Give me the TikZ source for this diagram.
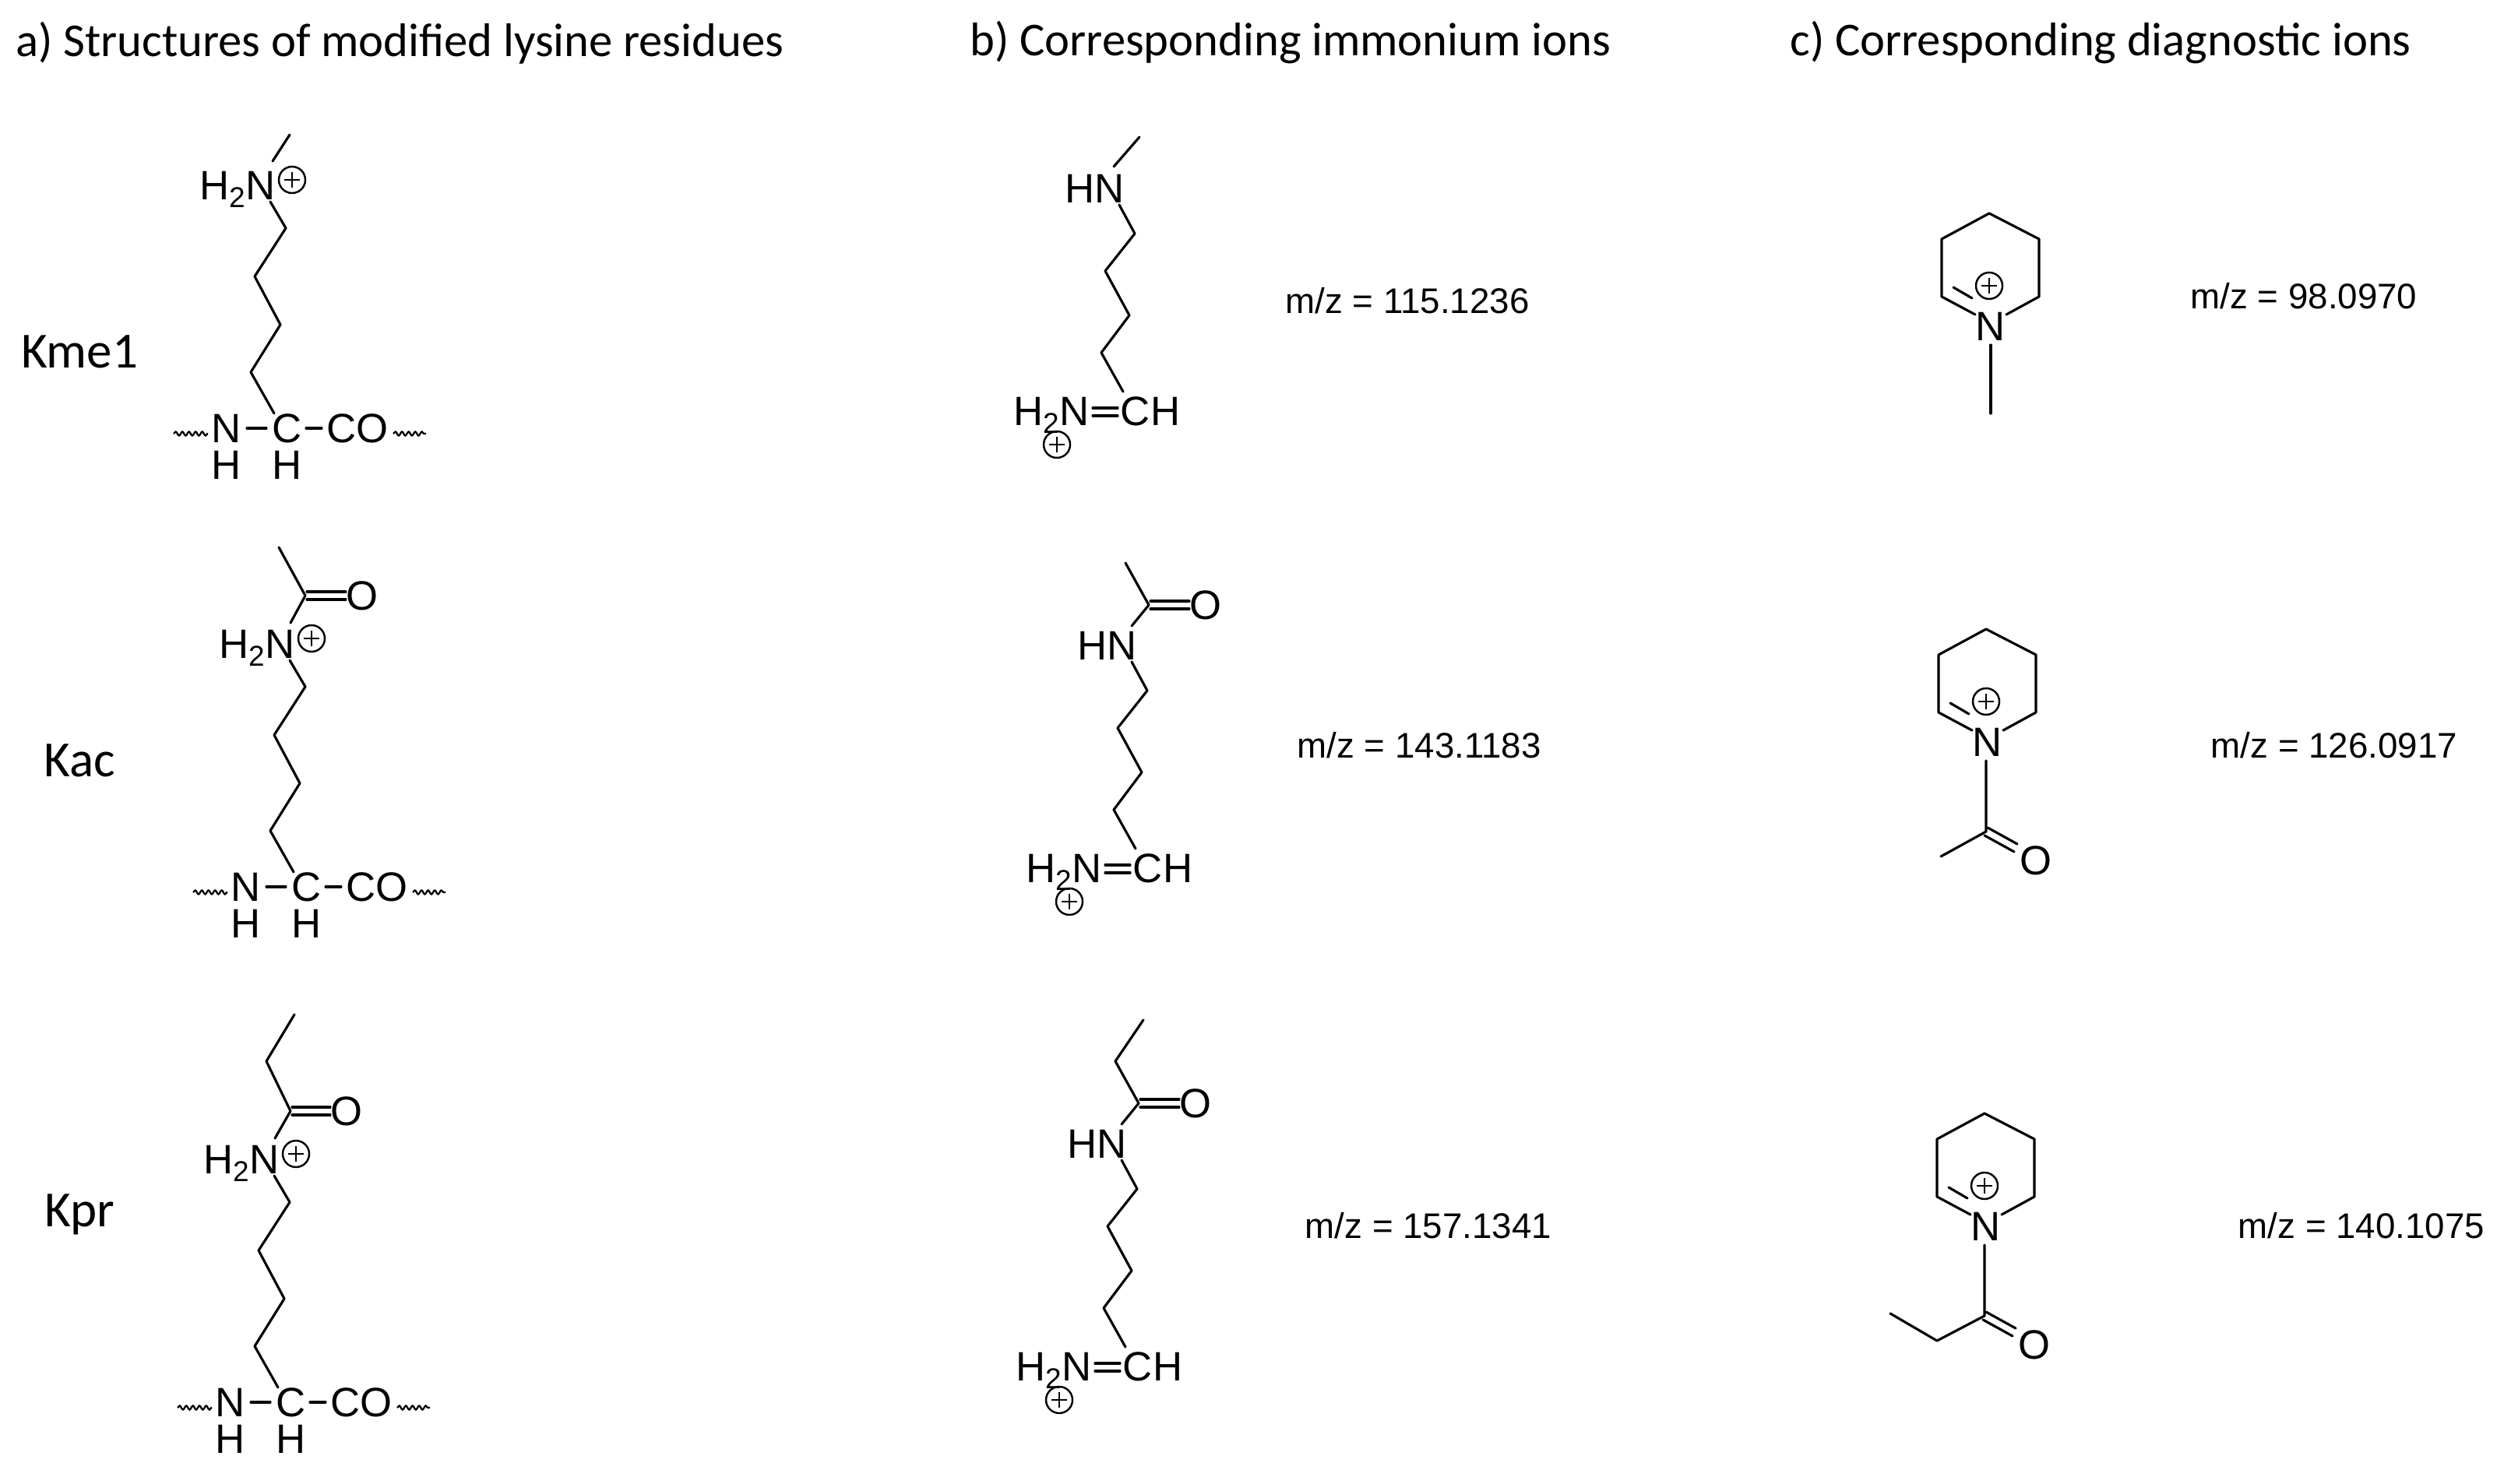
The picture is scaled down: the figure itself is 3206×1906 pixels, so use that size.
\documentclass[tikz,border=0pt]{standalone}
\usepackage{fontspec}
\setmainfont{Liberation Sans}
\newfontfamily\headfont{Carlito}
\usetikzlibrary{decorations.pathmorphing}
\newcommand\chemfont{\fontsize{30}{36}\selectfont}
\newcommand\pc[2]{\draw[plc] (#1,#2) circle (17); \draw[plc] (#1-10,#2)--(#1+10,#2) (#1,#2-10)--(#1,#2+10);}
\newcommand\lysine[3]{%
\begin{scope}[shift={(#1,#2)}]
 \node[chem,anchor=base east] (h2n#3) at (19,19) {H\textsubscript{2}N};
 \pc{40}{-6}
 \draw[bond] (12,22)--(32,56)--(-8,118)--(25,180)--(-13,241)--(17,294);
 \node[chem] (nb#3) at (-44,313) {N};
 \node[chem] (cb#3) at (34,313) {C};
 \node[chem,anchor=west] (co#3) at (84,313) {CO};
 \node[chem] (hn#3) at (-44,360) {H};
 \node[chem] (hc#3) at (34,360) {H};
 \draw[bond] (-18,313)--(7,313) (58,313)--(78,313);
 \draw[wavy] (-112,320)--(-68,320);
 \draw[wavy] (170,320)--(212,320);
\end{scope}}
\newcommand\immon[3]{%
\begin{scope}[shift={(#1,#2)}]
 \node[chem,anchor=base east] (hn#3) at (19,19) {HN};
 \draw[bond] (12,22)--(32,59)--(-6,107)--(25,164)--(-11,212)--(17,262);
 \node[chem,anchor=base] (ch#3) at (52,305) {CH};
 \node[chem,anchor=base east] (nh#3) at (-26,305) {H\textsubscript{2}N};
 \draw[bond] (-22,283)--(10,283) (-22,293)--(10,293);
 \pc{-68}{330}
\end{scope}}
\newcommand\ring[3]{%
\begin{scope}[shift={(#1,#2)}]
 \node[chem] (rn#3) at (0,0) {N};
 \draw[bond] (20,-15)--(62,-38)--(62,-112)--(-2,-145)--(-63,-112)--(-63,-38)--(-20,-15);
 \draw[bond] (-48,-50)--(-24,-36);
 \pc{-2}{-52}
\end{scope}}
\begin{document}
\begin{tikzpicture}[x=0.02cm,y=-0.02cm,
 bond/.style={line width=1.8pt,line cap=round,line join=round},
 plc/.style={line width=1.4pt},
 chem/.style={font=\chemfont,inner sep=0pt},
 wavy/.style={line width=1.3pt,decorate,decoration={snake,amplitude=0.05cm,segment length=0.17cm}},
 head/.style={font=\headfont\fontsize{34.5}{40}\selectfont,anchor=west,inner sep=0pt},
 klab/.style={font=\headfont\fontsize{37}{44}\selectfont,inner sep=0pt},
 mz/.style={font=\fontsize{26}{31}\selectfont,inner sep=0pt}]
\useasboundingbox (0,0) rectangle (3206,1906);
\node[head] (ha) at (20,55) {a) Structures of modified lysine residues};
\node[head] (hb) at (1245,55) {b) Corresponding immonium ions};
\node[head] (hc) at (2298,55) {c) Corresponding diagnostic ions};
\node[klab] (k1) at (102,452) {Kme1};
\node[klab] (k2) at (102,977) {Kac};
\node[klab] (k3) at (102,1560) {Kpr};
% column a
\lysine{335}{237}{A}
\draw[bond] (350,207)--(372,173);
\lysine{360}{826}{B}
\begin{scope}[shift={(360,826)}]
 \draw[bond] (13,-26)--(32,-61)--(-2,-123);
 \draw[bond] (34,-66)--(84,-66) (34,-56)--(84,-56);
 \node[chem] (oB) at (105,-61) {O};
\end{scope}
\lysine{340}{1488}{C}
\begin{scope}[shift={(340,1488)}]
 \draw[bond] (13,-26)--(33,-61)--(2,-125)--(38,-185);
 \draw[bond] (35,-66)--(84,-66) (35,-56)--(84,-56);
 \node[chem] (oC) at (105,-61) {O};
\end{scope}
% column b
\immon{1425}{241}{A}
\draw[bond] (1430,214)--(1463,176);
\immon{1441}{828}{B}
\begin{scope}[shift={(1441,828)}]
 \draw[bond] (12,-24)--(34,-51)--(4,-105);
 \draw[bond] (36,-56)--(86,-56) (36,-46)--(86,-46);
 \node[chem] (obB) at (107,-51) {O};
\end{scope}
\immon{1428}{1468}{C}
\begin{scope}[shift={(1428,1468)}]
 \draw[bond] (12,-24)--(34,-51)--(4,-105)--(40,-158);
 \draw[bond] (36,-56)--(86,-56) (36,-46)--(86,-46);
 \node[chem] (obC) at (107,-51) {O};
\end{scope}
\node[mz] (m1) at (1807,386) {m/z = 115.1236};
\node[mz] (m2) at (1822,957) {m/z = 143.1183};
\node[mz] (m3) at (1834,1574) {m/z = 157.1341};
% column c
\ring{2556}{419}{A}
\draw[bond] (2556,443)--(2556,531);
\ring{2552}{953}{B}
\begin{scope}[shift={(2552,953)}]
 \draw[bond] (-2,24)--(-2,115)--(-60,147);
 \draw[bond] (0,110)--(38,131) (-4,120)--(34,141);
 \node[chem] (ocB) at (62,152) {O};
\end{scope}
\ring{2550}{1575}{C}
\begin{scope}[shift={(2550,1575)}]
 \draw[bond] (-2,24)--(-2,115)--(-63,147)--(-123,112);
 \draw[bond] (0,110)--(38,131) (-4,120)--(34,141);
 \node[chem] (ocC) at (62,152) {O};
\end{scope}
\node[mz] (c1) at (2958,380) {m/z = 98.0970};
\node[mz] (c2) at (2997,957) {m/z = 126.0917};
\node[mz] (c3) at (3032,1574) {m/z = 140.1075};
\end{tikzpicture}
\end{document}
